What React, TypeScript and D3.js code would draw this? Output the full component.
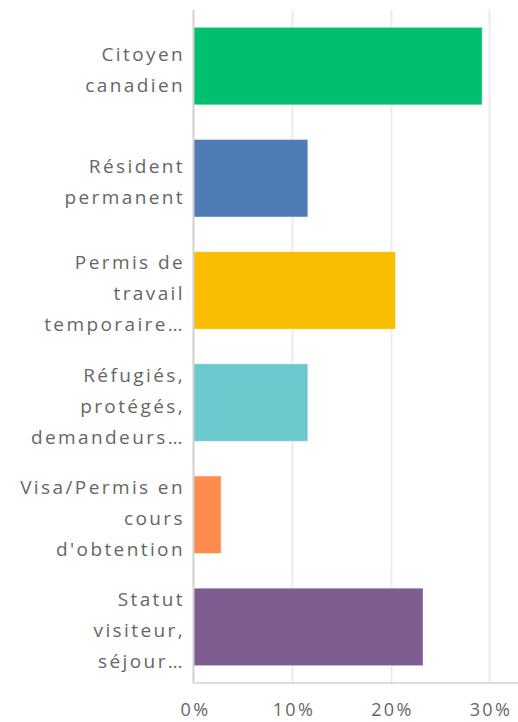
import React from "react";
import * as d3 from "d3";

const categories: string[][] = [
  ["Citoyen", "canadien"],
  ["Résident", "permanent"],
  ["Permis de", "travail", "temporaire…"],
  ["Réfugiés,", "protégés,", "demandeurs…"],
  ["Visa/Permis en", "cours", "d'obtention"],
  ["Statut", "visiteur,", "séjour…"],
];
const values = [29.3, 11.6, 20.5, 11.6, 2.8, 23.3];
const colors = ["#00bf6f", "#507cb6", "#f9be00", "#6bc8cd", "#ff8b4f", "#7d5d90"];
const ticks = [0, 10, 20, 30];

const W = 518;
const H = 722;
const left = 193.5;
const top = 10;
const bottom = 683;

export default function App() {
  const x = d3.scaleLinear().domain([0, 30]).range([left, 489]);
  const y = d3
    .scaleBand<number>()
    .domain(values.map((_, i) => i))
    .range([top, bottom])
    .paddingInner(0.31)
    .paddingOuter(0.155);
  const font = "'Open Sans', sans-serif";
  return (
    <svg
      width={W}
      height={H}
      style={{ position: "absolute", left: 0, top: 0, display: "block" }}
    >
      <rect width={W} height={H} fill="#fff" />
      {ticks.slice(1).map((t) => (
        <line
          key={t}
          x1={Math.round(x(t)) + 0.5}
          x2={Math.round(x(t)) + 0.5}
          y1={top}
          y2={bottom}
          stroke="#ececec"
          strokeWidth={2}
        />
      ))}
      {values.map((v, i) => (
        <rect
          key={i}
          x={x(0)}
          y={y(i)}
          width={x(v) - x(0)}
          height={y.bandwidth()}
          fill={colors[i]}
          stroke="rgba(255,255,255,0.35)"
          strokeWidth={1}
        />
      ))}
      <line x1={left} x2={left} y1={top} y2={bottom} stroke="#d0d0d0" strokeWidth={2} />
      <line x1={left} x2={W} y1={bottom} y2={bottom} stroke="#dcdcdc" strokeWidth={2} />
      {categories.map((lines, i) => {
        const c = (y(i) as number) + y.bandwidth() / 2;
        return (
          <text
            key={i}
            textAnchor="end"
            fontFamily={font}
            fontSize={19}
            letterSpacing={2.4}
            fill="#666"
          >
            {lines.map((l, j) => (
              <tspan key={j} x={185} y={c + 10 + (j - (lines.length - 1) / 2) * 31}>
                {l}
              </tspan>
            ))}
          </text>
        );
      })}
      {ticks.map((t) => (
        <text
          key={t}
          x={x(t) + 2}
          y={716}
          textAnchor="middle"
          fontFamily={font}
          fontSize={18}
          letterSpacing={2.4}
          fill="#666"
        >
          {t}%
        </text>
      ))}
    </svg>
  );
}
